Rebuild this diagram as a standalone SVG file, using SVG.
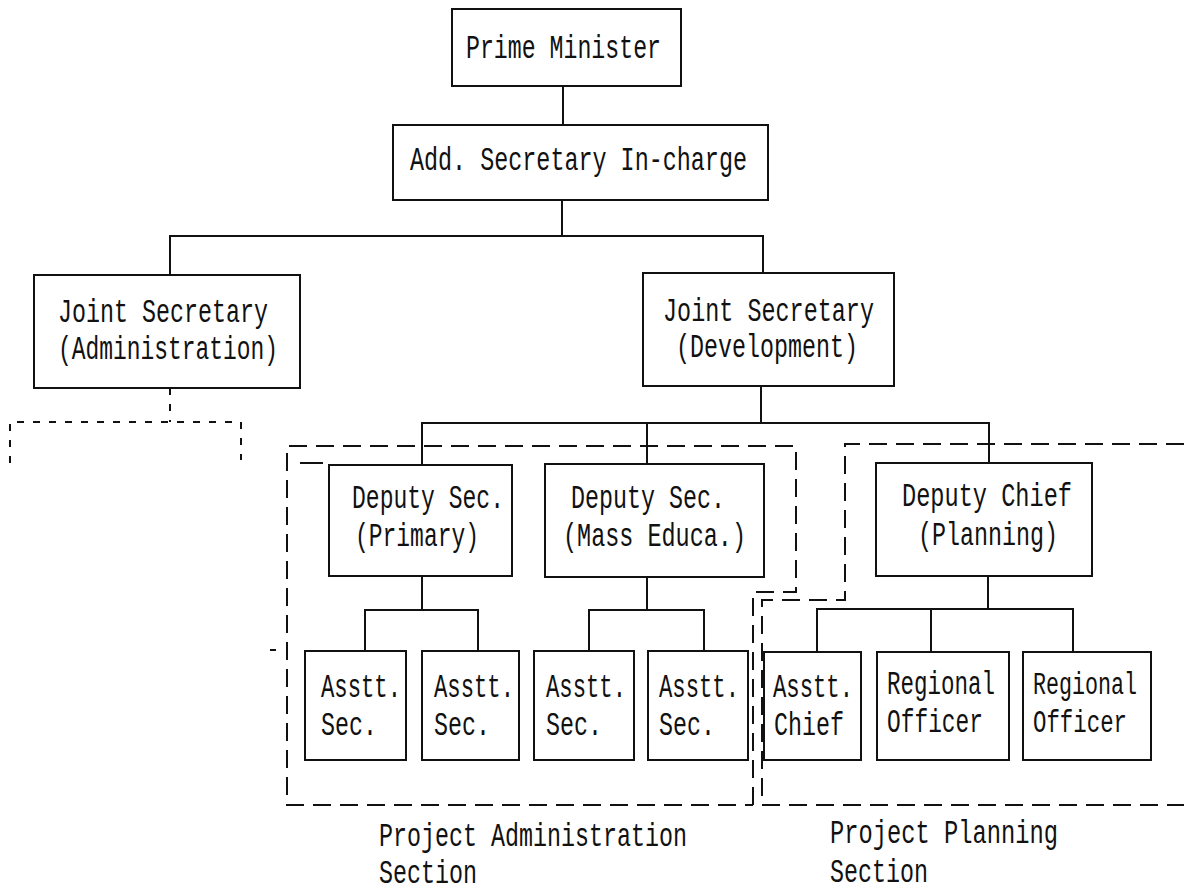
<svg xmlns="http://www.w3.org/2000/svg" width="1184" height="892" viewBox="0 0 1184 892">
<style>
.box{fill:#fff;stroke:#111;stroke-width:2}
.t{font-family:"Liberation Mono",monospace;font-size:33px;fill:#111}
.s{font-size:31px}
.ln{fill:none;stroke:#111;stroke-width:2}
.dash{fill:none;stroke:#111;stroke-width:2;stroke-dasharray:18 9}
.dot{fill:none;stroke:#111;stroke-width:2;stroke-dasharray:7 9}
</style>
<rect width="1184" height="892" fill="#fff"/>
<g id="connectors">
<path class="ln" d="M563 86V125"/>
<path class="ln" d="M562 200V236M170 275V236H763V273"/>
<path class="ln" d="M761 386V423M422 464V423H989V463M647 423V464"/>
<path class="ln" d="M422 576V610M365 651V610H478V651"/>
<path class="ln" d="M647 577V610M589 651V610H704V651"/>
<path class="ln" d="M988 576V609M817 652V609H1073V652M931 609V652"/>
<path class="dot" d="M170 388V422M10 463V422H241V460"/>
</g>
<g id="section-admin">
<path class="dash" d="M753 805V592H796V446H287V805H753"/>
<path class="ln" d="M300 463H323M270 650H276"/>
<text class="t" x="379" y="846" textLength="308" lengthAdjust="spacingAndGlyphs">Project Administration</text>
<text class="t" x="379" y="883" textLength="98" lengthAdjust="spacingAndGlyphs">Section</text>
</g>
<g id="section-planning">
<path class="dash" d="M1184 444H845V600H762V805H1184"/>
<text class="t" x="830" y="843" textLength="228" lengthAdjust="spacingAndGlyphs">Project Planning</text>
<text class="t" x="830" y="882" textLength="98" lengthAdjust="spacingAndGlyphs">Section</text>
</g>
<g id="prime-minister">
<rect class="box" x="452" y="9" width="229" height="77"/>
<text class="t" x="466" y="58" textLength="195" lengthAdjust="spacingAndGlyphs">Prime Minister</text>
</g>
<g id="add-secretary">
<rect class="box" x="393" y="125" width="375" height="75"/>
<text class="t" x="410" y="170" textLength="337" lengthAdjust="spacingAndGlyphs">Add. Secretary In-charge</text>
</g>
<g id="js-admin">
<rect class="box" x="34" y="275" width="266" height="113"/>
<text class="t" x="58" y="322" textLength="210" lengthAdjust="spacingAndGlyphs">Joint Secretary</text>
<text class="t" x="58" y="359" textLength="220" lengthAdjust="spacingAndGlyphs">(Administration)</text>
</g>
<g id="js-dev">
<rect class="box" x="643" y="273" width="251" height="113"/>
<text class="t" x="663" y="321" textLength="211" lengthAdjust="spacingAndGlyphs">Joint Secretary</text>
<text class="t" x="676" y="357" textLength="182" lengthAdjust="spacingAndGlyphs">(Development)</text>
</g>
<g id="ds-primary">
<rect class="box" x="329" y="465" width="183" height="111"/>
<text class="t" x="352" y="508" textLength="152" lengthAdjust="spacingAndGlyphs">Deputy Sec.</text>
<text class="t" x="355" y="546" textLength="124" lengthAdjust="spacingAndGlyphs">(Primary)</text>
</g>
<g id="ds-mass">
<rect class="box" x="545" y="464" width="219" height="113"/>
<text class="t" x="571" y="508" textLength="154" lengthAdjust="spacingAndGlyphs">Deputy Sec.</text>
<text class="t" x="563" y="546" textLength="183" lengthAdjust="spacingAndGlyphs">(Mass Educa.)</text>
</g>
<g id="dc-planning">
<rect class="box" x="876" y="463" width="216" height="113"/>
<text class="t" x="902" y="506" textLength="170" lengthAdjust="spacingAndGlyphs">Deputy Chief</text>
<text class="t" x="918" y="545" textLength="140" lengthAdjust="spacingAndGlyphs">(Planning)</text>
</g>
<g id="as1">
<rect class="box" x="305" y="651" width="101" height="109"/>
<text class="t" x="321" y="697" textLength="80" lengthAdjust="spacingAndGlyphs">Asstt.</text>
<text class="t" x="321" y="735" textLength="56" lengthAdjust="spacingAndGlyphs">Sec.</text>
</g>
<g id="as2">
<rect class="box" x="422" y="651" width="97" height="109"/>
<text class="t" x="434" y="697" textLength="80" lengthAdjust="spacingAndGlyphs">Asstt.</text>
<text class="t" x="434" y="735" textLength="56" lengthAdjust="spacingAndGlyphs">Sec.</text>
</g>
<g id="as3">
<rect class="box" x="534" y="651" width="100" height="109"/>
<text class="t" x="546" y="697" textLength="80" lengthAdjust="spacingAndGlyphs">Asstt.</text>
<text class="t" x="546" y="735" textLength="56" lengthAdjust="spacingAndGlyphs">Sec.</text>
</g>
<g id="as4">
<rect class="box" x="648" y="651" width="100" height="109"/>
<text class="t" x="659" y="697" textLength="80" lengthAdjust="spacingAndGlyphs">Asstt.</text>
<text class="t" x="659" y="735" textLength="56" lengthAdjust="spacingAndGlyphs">Sec.</text>
</g>
<g id="ac">
<rect class="box" x="764" y="652" width="97" height="108"/>
<text class="t" x="773" y="697" textLength="80" lengthAdjust="spacingAndGlyphs">Asstt.</text>
<text class="t" x="774" y="735" textLength="70" lengthAdjust="spacingAndGlyphs">Chief</text>
</g>
<g id="ro1">
<rect class="box" x="877" y="652" width="132" height="108"/>
<text class="t" x="887" y="694" textLength="108" lengthAdjust="spacingAndGlyphs">Regional</text>
<text class="t" x="887" y="732" textLength="96" lengthAdjust="spacingAndGlyphs">Officer</text>
</g>
<g id="ro2">
<rect class="box" x="1023" y="652" width="128" height="108"/>
<text class="t s" x="1033" y="694" textLength="104" lengthAdjust="spacingAndGlyphs">Regional</text>
<text class="t s" x="1033" y="732" textLength="94" lengthAdjust="spacingAndGlyphs">Officer</text>
</g>
</svg>
